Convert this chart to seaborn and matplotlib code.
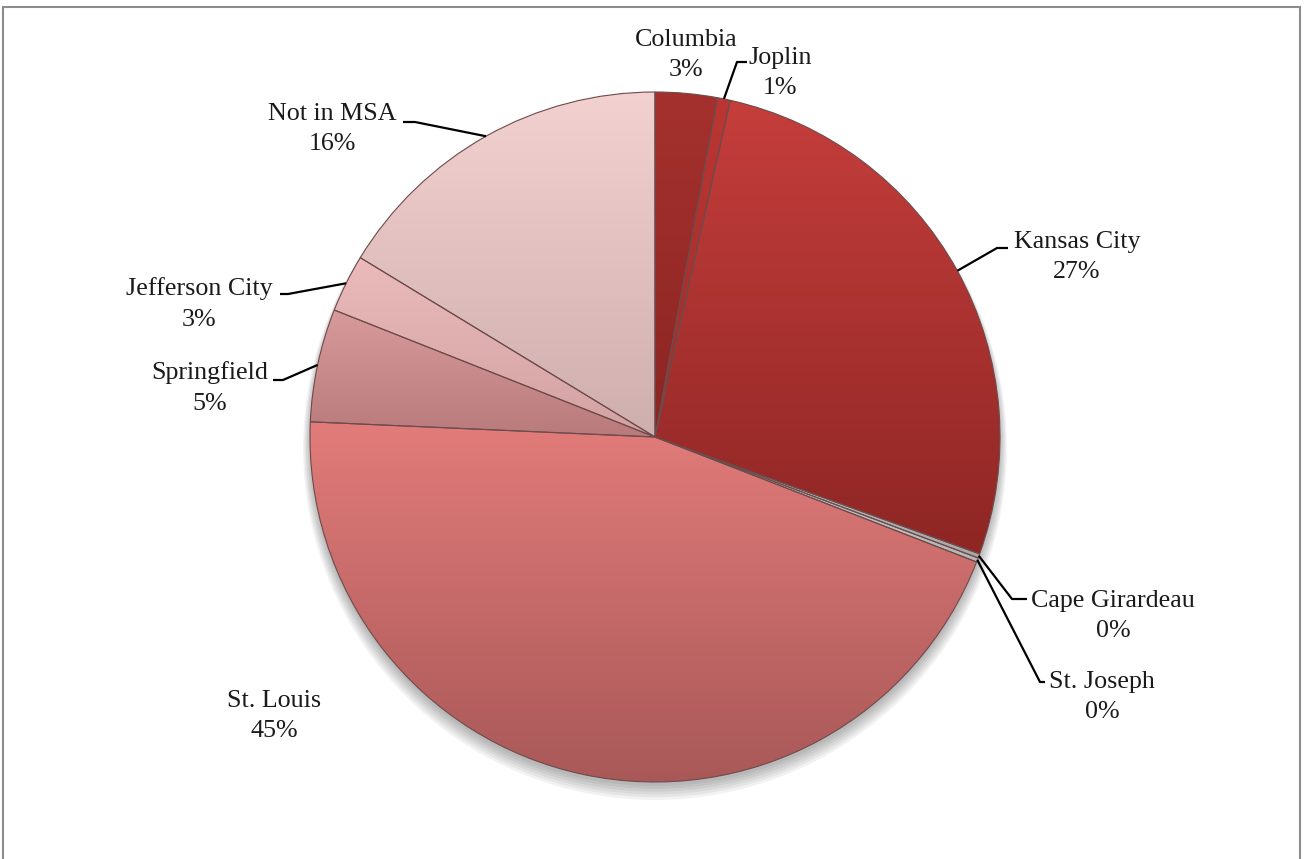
import numpy as np
import matplotlib
matplotlib.use("Agg")
import matplotlib.pyplot as plt
import matplotlib.patches as patches
from matplotlib.colors import LinearSegmentedColormap
import seaborn as sns

# data
cities = ["Columbia", "Joplin", "Kansas City", "Cape Girardeau", "St. Joseph",
          "St. Louis", "Springfield", "Jefferson City", "Not in MSA"]
shares = [2.9, 0.6, 27.0, 0.2, 0.2, 44.8, 5.3, 2.7, 16.3]

# styles: top / bottom colour of each slice gradient
top_cols = ["#a5312e", "#bb3633", "#c53e3c", "#c4c4c4", "#d2d2d2",
            "#e27c7a", "#d89a9a", "#ebbaba", "#f3d1d1"]
bot_cols = ["#8b2522", "#9e2c29", "#8e2624", "#a8a8a8", "#b5b5b5",
            "#a95858", "#b87a7a", "#d2a2a2", "#cfaeae"]

# layout, in pixels of the 1304x859 picture
CX, CY, R = 655, 437, 345
label_xy = [(686, 55), (780, 73), (1077, 257), (1113, 616), (1102, 697),
            (274, 716), (210, 388), (199, 304), (332, 129)]
# elbow point and end point of leader lines (None = no line)
leaders = [None, ((737, 62), (747, 62)), ((997, 248), (1008, 248)),
           ((1012, 599), (1027, 599)), ((1040, 682), (1045, 682)),
           None, ((283, 380), (273, 380)), ((288, 294), (280, 294)),
           ((415, 122), (403, 122))]


def px(p):
    return (p[0] - CX) / R, (CY - p[1]) / R


sns.set_theme(style="white")
plt.rcParams['font.family'] = ['Liberation Serif', 'DejaVu Serif']

fig = plt.figure(figsize=(13.04, 8.59), dpi=100)
ax = fig.add_axes([0, 0, 1, 1])
ax.set_aspect('equal')

# soft shadow under the pie
for k in range(6):
    ax.add_patch(patches.Circle((0.0, -0.012 - 0.004 * k), 1.0 + 0.004 * k,
                                facecolor='#000000', alpha=0.05, edgecolor='none', zorder=1))

wedges, _ = ax.pie(shares, startangle=90, counterclock=False, radius=1, center=(0, 0),
                   colors=top_cols, wedgeprops=dict(edgecolor='#6e4b4b', linewidth=0.8))

grad = np.linspace(0, 1, 256).reshape(-1, 1)
for w, ct, cb in zip(wedges, top_cols, bot_cols):
    cmap = LinearSegmentedColormap.from_list('g', [cb, ct])
    ext = w.get_path().get_extents()
    im = ax.imshow(grad, cmap=cmap, origin='lower', aspect='auto',
                   extent=(ext.x0, ext.x1, ext.y0, ext.y1), zorder=2, interpolation='bilinear')
    im.set_clip_path(w)
    w.set_facecolor('none')
    w.set_zorder(3)

# labels and leader lines
for w, name, val, pos, ld in zip(wedges, cities, shares, label_xy, leaders):
    tx, ty = px(pos)
    ax.text(tx, ty, f"{name}\n{val:.0f}%", ha='center', va='center', fontsize=18.7,
            color='#1a1a1a', linespacing=1.5, zorder=5)
    if ld is not None:
        mid = np.deg2rad((w.theta1 + w.theta2) / 2)
        sx, sy = np.cos(mid), np.sin(mid)
        ex, ey = px(ld[0])
        fx, fy = px(ld[1])
        ax.plot([sx, ex, fx], [sy, ey, fy], color='black', lw=1.6, zorder=4,
                solid_capstyle='butt')

ax.set_xlim(-CX / R, (1304 - CX) / R)
ax.set_ylim((CY - 859) / R, CY / R)
ax.axis('off')

# chart frame
fig.add_artist(patches.Rectangle((3 / 1304, -0.05), 1297 / 1304, 1.05 - 7 / 859,
                                 transform=fig.transFigure, facecolor='none',
                                 edgecolor='#8c8c8c', linewidth=1.5))

plt.savefig('out.png', dpi=100)
